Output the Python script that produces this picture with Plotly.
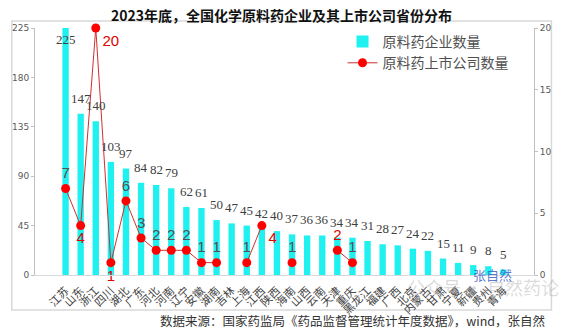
import plotly.graph_objects as go

# Province-level counts of API manufacturers and listed API companies, end of 2023
provinces = ["江苏", "山东", "浙江", "四川", "湖北", "广东", "河北", "河南", "辽宁", "安徽",
             "湖南", "吉林", "上海", "江西", "陕西", "海南", "山西", "云南", "天津", "重庆",
             "黑龙江", "福建", "广西", "北京", "内蒙古", "甘肃", "宁夏", "新疆", "贵州", "青海"]
api_firms = [225, 147, 140, 103, 97, 84, 82, 79, 62, 61,
             50, 47, 45, 42, 40, 37, 36, 36, 34, 34,
             31, 28, 27, 24, 22, 15, 11, 9, 8, 5]
listed_firms = [7, 4, 20, 1, 6, 3, 2, 2, 2, 1,
                1, None, 1, 4, None, 1, None, None, 2, 1,
                None, None, None, None, None, None, None, None, None, None]

title = "2023年底，全国化学原料药企业及其上市公司省份分布"
source = "数据来源：国家药监局《药品监督管理统计年度数据》，wind，张自然"

CJK = "Noto Sans CJK SC"
SERIF = "Liberation Serif"
GRAY = "#595959"

# plot-area geometry in pixels (used to place paper-referenced items)
L, R, T, B = 27, 543, 28, 275
PW, PH = R - L, B - T


def px(x):
    return (x - L) / PW


def py(y):
    return (B - y) / PH


# label placement for the listed-company points
pos = {"山东": "bottom center", "四川": "bottom center",
       "浙江": "bottom right", "江西": "bottom right"}
red_labels = {"山东", "四川", "浙江", "江西", "天津"}
line_text, line_pos, line_col = [], [], []
for p, v in zip(provinces, listed_firms):
    line_text.append("" if v is None else str(v))
    line_pos.append(pos.get(p, "top center"))
    line_col.append("#e00000" if p in red_labels else "#505050")

fig = go.Figure()
fig.add_trace(go.Bar(
    x=provinces, y=api_firms, name="原料药企业数量",
    marker=dict(color="#1ff0f0", line_width=0),
    yaxis="y",
))
fig.add_trace(go.Scatter(
    x=provinces, y=listed_firms, name="原料药上市公司数量",
    mode="lines+markers+text", connectgaps=False,
    line=dict(color="#d03030", width=1),
    marker=dict(color="#ff0000", size=9),
    text=line_text, textposition=line_pos,
    textfont=dict(family="Liberation Sans", size=15, color=line_col),
    yaxis="y2", cliponaxis=False,
))

# value labels above each bar
for p, v in zip(provinces, api_firms):
    top = v >= 200
    fig.add_annotation(
        x=p, y=v, xref="x", yref="y", text=str(v), showarrow=False,
        yanchor="top" if top else "bottom", yshift=-2 if top else 6,
        font=dict(family=SERIF, size=13, color="#404040"),
    )

fig.add_annotation(text="<b>" + title + "</b>", xref="paper", yref="paper",
                   x=px(282), y=py(3), xanchor="center", yanchor="top", showarrow=False,
                   font=dict(family=CJK, size=14, color="#111111"))
fig.add_annotation(text=source, xref="paper", yref="paper",
                   x=px(556), y=py(320), xanchor="right", yanchor="middle",
                   showarrow=False, font=dict(family=CJK, size=12.5, color="#333333"))
fig.add_annotation(text="公众号 · 自然药论", xref="paper", yref="paper",
                   x=px(490), y=py(287), xanchor="center", yanchor="middle",
                   showarrow=False, font=dict(family=CJK, size=18, color="rgba(150,150,150,0.35)"))
fig.add_annotation(text="张自然", xref="paper", yref="paper",
                   x=px(500), y=py(274), xanchor="center", yanchor="middle",
                   showarrow=False, font=dict(family=CJK, size=13, color="rgba(60,100,200,0.85)"))

# outer frame around the chart
fig.add_shape(type="rect", xref="paper", yref="paper",
              x0=px(3), x1=px(561), y0=py(310), y1=py(21),
              line=dict(color="#d9d9d9", width=1.5), fillcolor="rgba(0,0,0,0)", layer="below")

fig.update_layout(
    width=564, height=329,
    margin=dict(l=L, r=564 - R, t=T, b=329 - B),
    paper_bgcolor="white", plot_bgcolor="white",
    bargap=0.58, showlegend=True,
    legend=dict(x=px(345), y=py(26), xanchor="left", yanchor="top",
                bgcolor="rgba(0,0,0,0)", font=dict(family=CJK, size=14, color="#505050"),
                itemwidth=30, tracegroupgap=0),
    xaxis=dict(tickangle=-45, tickfont=dict(family=CJK, size=11, color="#404040"),
               ticklabelstandoff=4,
               showline=True, linecolor="#d9d9d9", ticks="", showgrid=False),
    yaxis=dict(range=[0, 225], tickvals=[0, 45, 90, 135, 180, 225], showgrid=False,
               showline=True, linecolor="#bfbfbf", ticks="outside", ticklen=3,
               tickcolor="#bfbfbf", tickfont=dict(family="DejaVu Sans", size=9, color=GRAY),
               zeroline=False),
    yaxis2=dict(range=[0, 20], tickvals=[0, 5, 10, 15, 20], overlaying="y", side="right",
                showgrid=False, showline=True, linecolor="#bfbfbf", ticks="outside",
                ticklen=3, tickcolor="#bfbfbf",
                tickfont=dict(family="DejaVu Sans", size=9, color=GRAY), zeroline=False),
)

fig.write_html("out.html")
